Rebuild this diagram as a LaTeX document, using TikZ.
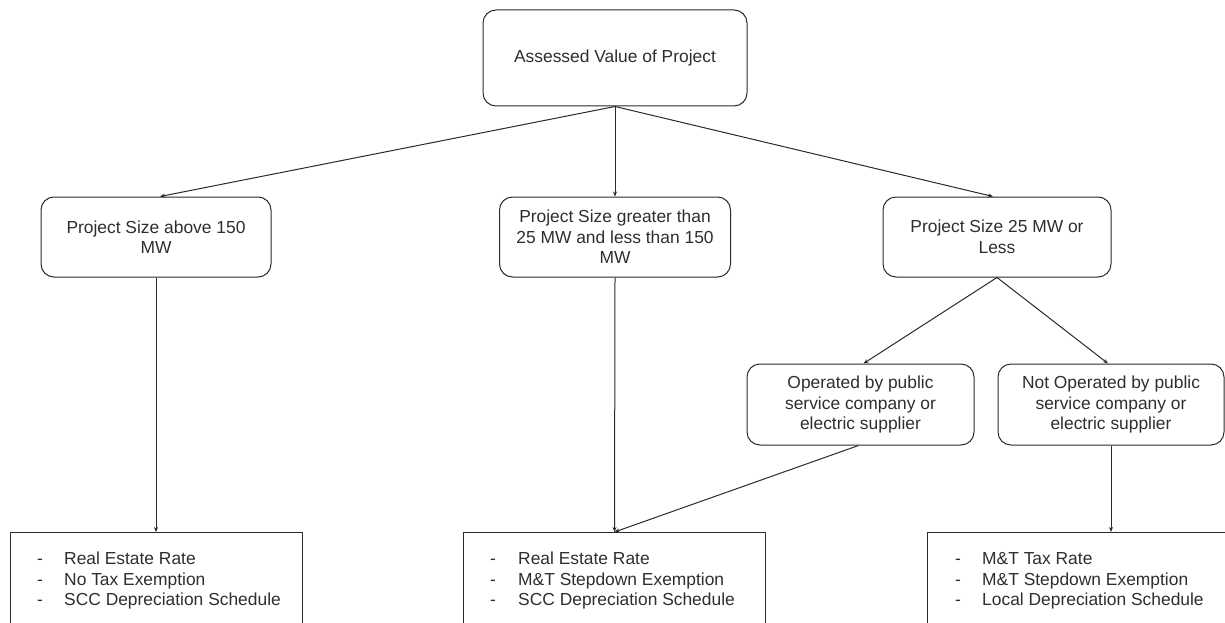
\documentclass[tikz,border=0pt]{standalone}
\usepackage{fontspec}
\setmainfont{Liberation Sans}
\usetikzlibrary{arrows.meta}
\definecolor{ln}{HTML}{2A2A2A}
\definecolor{txt}{HTML}{2E2E2E}
\begin{document}
\begin{tikzpicture}[x=1pt,y=-1pt,
  every node/.style={font=\fontsize{17.4}{20.5}\selectfont, text=txt},
  rbox/.style={draw=ln, line width=1pt, rounded corners=13pt, align=center, inner sep=0pt},
  sbox/.style={draw=ln, line width=1pt, inner sep=0pt, anchor=north west, minimum height=130pt},
  listtext/.style={anchor=west, inner sep=0pt},
  conn/.style={draw=ln, line width=1pt, -{Stealth[length=5pt,width=4pt]}}]
\useasboundingbox (0,0) rectangle (1225,623);
\clip (0,0) rectangle (1225,623);

\node[rbox, minimum width=264pt, minimum height=96pt] (top) at (615,58) {Assessed Value of Project};
\node[rbox, minimum width=230pt, minimum height=80pt] (a) at (156,237) {Project Size above 150\\MW};
\node[rbox, minimum width=231pt, minimum height=80pt] (b) at (615,237) {Project Size greater than\\25 MW and less than 150\\MW};
\node[rbox, minimum width=228pt, minimum height=80pt] (c) at (997,237) {Project Size 25 MW or\\Less};
\node[rbox, minimum width=227pt, minimum height=81pt] (d) at (860.5,404.5) {Operated by public\\service company or\\electric supplier};
\node[rbox, minimum width=226pt, minimum height=81pt] (e) at (1111,404.5) {Not Operated by public\\service company or\\electric supplier};

\node[sbox, minimum width=292pt] (f) at (10,532) {};
\node[sbox, minimum width=302pt] (g) at (463,532) {};
\node[sbox, minimum width=340pt] (h) at (927,532) {};

\node[listtext] (fl) at (37,581) {\begin{tabular}{@{}p{27pt}@{}l@{}}-&Real Estate Rate\\-&No Tax Exemption\\-&SCC Depreciation Schedule\end{tabular}};
\node[listtext] (gl) at (490,581) {\begin{tabular}{@{}p{28pt}@{}l@{}}-&Real Estate Rate\\-&M\&T Stepdown Exemption\\-&SCC Depreciation Schedule\end{tabular}};
\node[listtext] (hl) at (955,581) {\begin{tabular}{@{}p{27pt}@{}l@{}}-&M\&T Tax Rate\\-&M\&T Stepdown Exemption\\-&Local Depreciation Schedule\end{tabular}};

\draw[conn] (top.south) -- ([xshift=4pt]a.north);
\draw[conn] (top.south) -- (b.north);
\draw[conn] (top.south) -- ([xshift=-4pt]c.north);
\draw[conn] (a.south) -- (a.south |- f.north);
\draw[conn] (b.south) -- (g.north);
\draw[conn] (c.south) -- ([xshift=3pt]d.north);
\draw[conn] (c.south) -- ([xshift=-3pt]e.north);
\draw[conn] ([xshift=-2pt]d.south) -- (g.north);
\draw[conn] (e.south) -- (e.south |- h.north);
\end{tikzpicture}
\end{document}
